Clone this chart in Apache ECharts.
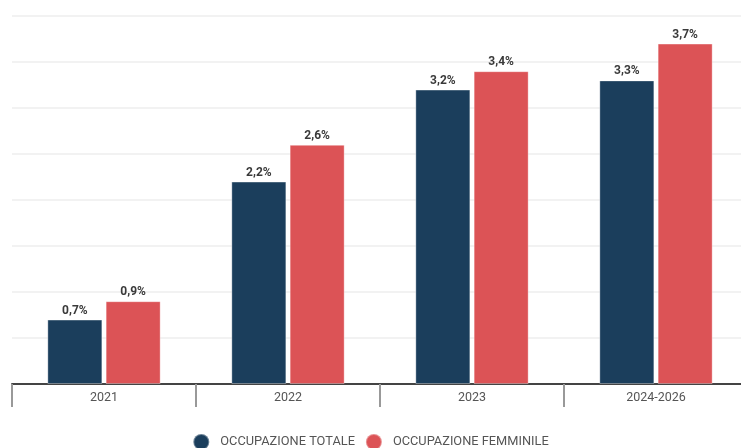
<!DOCTYPE html>
<html>
<head>
<meta charset="utf-8">
<script src="https://cdn.jsdelivr.net/npm/echarts@6/dist/echarts.min.js"></script>
<style>
  html, body { margin: 0; padding: 0; background: #fff; }
  #chart { width: 741px; height: 448px; }
</style>
</head>
<body>
<div id="chart"></div>
<script>
var categories = ['2021', '2022', '2023', '2024-2026'];
var seriesNames = ['OCCUPAZIONE TOTALE', 'OCCUPAZIONE FEMMINILE'];
var totale = [0.7, 2.2, 3.2, 3.3];
var femminile = [0.9, 2.6, 3.4, 3.7];

var fmt = function (p) {
    return String(p.value).replace('.', ',') + '%';
};

var chart = echarts.init(document.getElementById('chart'));
chart.setOption({
    animation: false,
    textStyle: { fontFamily: 'Roboto' },
    grid: { left: 12, top: 16, width: 736, height: 368, outerBoundsMode: 'none', containLabel: false },
    legend: {
        bottom: -8,
        left: 'center',
        icon: 'circle',
        itemWidth: 16,
        itemHeight: 16,
        itemGap: 10,
        textStyle: { color: '#555', fontSize: 12.8, padding: [0, 0, 0, 6] },
        data: seriesNames
    },
    xAxis: {
        type: 'category',
        data: categories,
        axisLine: { lineStyle: { color: '#444', width: 2 } },
        axisTick: { show: true, alignWithLabel: false, length: 23, lineStyle: { color: '#999', width: 2 } },
        axisLabel: { color: '#555', fontSize: 12.5, margin: 7 }
    },
    yAxis: {
        type: 'value',
        min: 0,
        max: 4,
        interval: 0.5,
        axisLabel: { show: false },
        axisLine: { show: false },
        axisTick: { show: false },
        splitLine: { lineStyle: { color: '#eeeeee', width: 1.5 } }
    },
    series: [
        {
            name: seriesNames[0],
            type: 'bar',
            data: totale,
            barWidth: 55,
            barGap: '6%',
            itemStyle: { color: '#1b3e5c', borderColor: 'rgba(255,255,255,0.35)', borderWidth: 1 },
            label: { show: true, position: 'top', distance: 3, color: '#3a3a3a', fontSize: 12, fontWeight: 'bold', formatter: fmt }
        },
        {
            name: seriesNames[1],
            type: 'bar',
            data: femminile,
            barWidth: 55,
            itemStyle: { color: '#dc5356', borderColor: 'rgba(255,255,255,0.35)', borderWidth: 1 },
            label: { show: true, position: 'top', distance: 3, color: '#3a3a3a', fontSize: 12, fontWeight: 'bold', formatter: fmt }
        }
    ]
});
</script>
</body>
</html>
